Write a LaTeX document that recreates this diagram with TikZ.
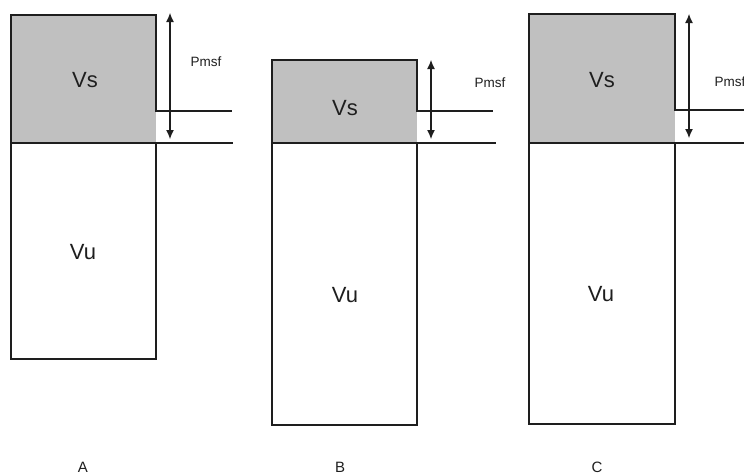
\documentclass[tikz,border=0pt]{standalone}
\usepackage{fontspec}
\setmainfont{Liberation Sans}
\usetikzlibrary{arrows.meta}
\definecolor{vsgray}{HTML}{C0C0C0}
\definecolor{wallcol}{HTML}{1E1E1E}
\tikzset{
  wall/.style={line width=1.3pt, draw=wallcol},
  dimline/.style={line width=1.1pt, draw=wallcol, {Latex[length=9pt,width=8pt]}-{Latex[length=9pt,width=8pt]}},
  voltext/.style={font=\fontsize{22}{26}\selectfont, text=wallcol},
  pmsftext/.style={font=\fontsize{13.5}{16}\selectfont, text=wallcol},
  casetext/.style={font=\fontsize{15}{18}\selectfont, text=wallcol}
}
\begin{document}
\begin{tikzpicture}[x=1pt,y=-1pt]
	\useasboundingbox (0,0) rectangle (744,475);
	\fill[vsgray] (11,15) rectangle (156,143);
	\draw[wall] (11,143) -- (11,15) -- (156,15) -- (156,111) -- (232,111);
	\draw[wall] (11,143) -- (233,143);
	\draw[wall] (11,143) rectangle (156,359);
	\coordinate (topA) at (170,13);
	\coordinate (botA) at (170,139);
	\draw[dimline] (topA) -- (botA);
	\node[voltext] (vsA) at (85,80) {Vs};
	\node[voltext] (vuA) at (83,252) {Vu};
	\node[pmsftext] (pmsfA) at (206,62) {Pmsf};
	\node[casetext] (caseA) at (83,467) {A};
	\fill[vsgray] (272,60) rectangle (417,143);
	\draw[wall] (272,143) -- (272,60) -- (417,60) -- (417,111) -- (493,111);
	\draw[wall] (272,143) -- (496,143);
	\draw[wall] (272,143) rectangle (417,425);
	\coordinate (topB) at (431,60);
	\coordinate (botB) at (431,139);
	\draw[dimline] (topB) -- (botB);
	\node[voltext] (vsB) at (345,108) {Vs};
	\node[voltext] (vuB) at (345,295) {Vu};
	\node[pmsftext] (pmsfB) at (490,83) {Pmsf};
	\node[casetext] (caseB) at (340,467) {B};
	\fill[vsgray] (529,14) rectangle (675,143);
	\draw[wall] (529,143) -- (529,14) -- (675,14) -- (675,110) -- (750,110);
	\draw[wall] (529,143) -- (750,143);
	\draw[wall] (529,143) rectangle (675,424);
	\coordinate (topC) at (689,14);
	\coordinate (botC) at (689,138);
	\draw[dimline] (topC) -- (botC);
	\node[voltext] (vsC) at (602,80) {Vs};
	\node[voltext] (vuC) at (601,294) {Vu};
	\node[pmsftext] (pmsfC) at (730,82) {Pmsf};
	\node[casetext] (caseC) at (597,467) {C};
\end{tikzpicture}
\end{document}
